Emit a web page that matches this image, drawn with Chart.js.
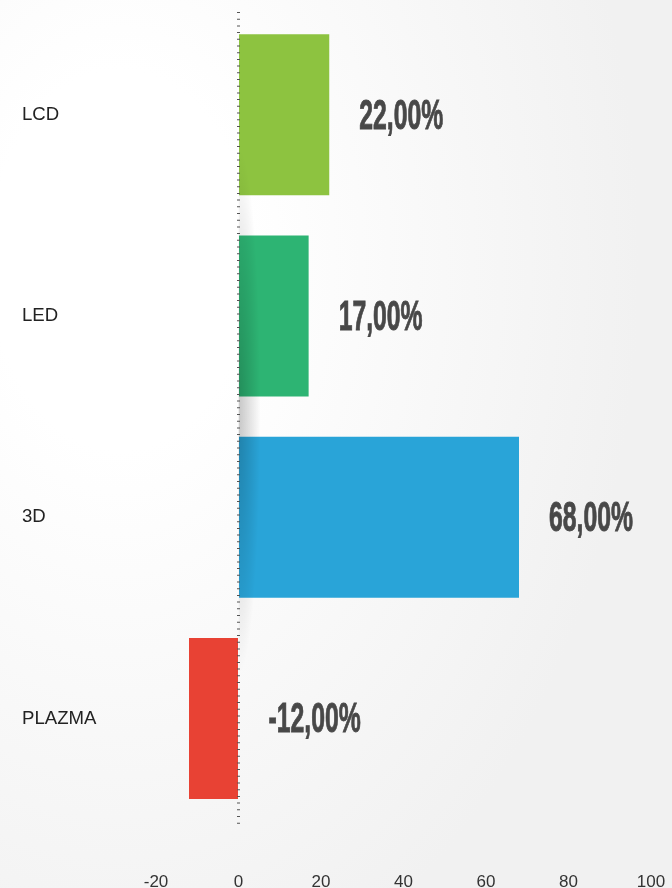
<!DOCTYPE html>
<html><head><meta charset="utf-8">
<script src="https://cdn.jsdelivr.net/npm/chart.js@4"></script>
<style>
html,body{margin:0;padding:0;}
body{width:672px;height:888px;overflow:hidden;background:radial-gradient(ellipse 520px 760px at 120px 260px,#ffffff 25%,#f1f1f1 100%);}
#wrap{width:672px;height:888px;position:relative;}
canvas{display:block;}
</style></head><body>
<div id="wrap"><canvas id="c" width="672" height="888"></canvas></div>
<script>
const categories = ['LCD', 'LED', '3D', 'PLAZMA'];
const values = [22, 17, 68, -12];
const tickValues = [-20, 0, 20, 40, 60, 80, 100];
const barColors = ['#8DC340', '#2DB473', '#29A4D8', '#E84234'];

function fmt(v) { return v.toFixed(2).replace('.', ',') + '%'; }

const axisPlugin = {
  id: 'zeroAxis',
  afterDatasetsDraw(chart) {
    const ctx = chart.ctx, xs = chart.scales.x, area = chart.chartArea;
    const x0 = xs.getPixelForValue(0);
    // soft shadow right of the axis
    ctx.save();
    ctx.beginPath(); ctx.rect(x0, area.top, 40, area.bottom - area.top); ctx.clip();
    const cy = (area.top + area.bottom) / 2 - 6;
    ctx.translate(x0, cy); ctx.scale(1, 12);
    const g = ctx.createRadialGradient(0, 0, 0, 0, 0, 22);
    g.addColorStop(0, 'rgba(0,0,0,0.22)');
    g.addColorStop(1, 'rgba(0,0,0,0)');
    ctx.fillStyle = g; ctx.fillRect(0, -30, 30, 60);
    ctx.restore();
    // dotted axis line
    ctx.save();
    ctx.strokeStyle = '#555'; ctx.lineWidth = 3;
    ctx.setLineDash([1, 5.7]);
    ctx.beginPath(); ctx.moveTo(x0, area.top - 2); ctx.lineTo(x0, area.bottom + 6); ctx.stroke();
    ctx.restore();
    // value labels
    const meta = chart.getDatasetMeta(0);
    ctx.save();
    ctx.font = 'bold 42px "Liberation Sans", Arial, sans-serif';
    const sx = 84 / ctx.measureText('22,00%').width;
    ctx.fillStyle = '#484848'; ctx.textAlign = 'left'; ctx.textBaseline = 'alphabetic';
    ctx.strokeStyle = '#484848'; ctx.lineWidth = 0.9;
    meta.data.forEach((bar, i) => {
      const tx = Math.max(bar.x, x0) + 30;
      ctx.save(); ctx.translate(tx, bar.y + 14); ctx.scale(sx, 1);
      ctx.fillText(fmt(values[i]), 0, 0);
      ctx.strokeText(fmt(values[i]), 0, 0);
      ctx.restore();
    });
    ctx.restore();
  }
};

new Chart(document.getElementById('c'), {
  type: 'bar',
  data: { labels: categories, datasets: [{ data: values, backgroundColor: barColors, barPercentage: 0.8, categoryPercentage: 1, borderWidth: 0 }] },
  options: {
    indexAxis: 'y', responsive: false, animation: false,
    layout: { padding: { left: 22, right: 21, top: 14, bottom: 0 } },
    plugins: { legend: { display: false }, tooltip: { enabled: false } },
    scales: {
      x: {
        min: -20, max: 100,
        afterBuildTicks(s) { s.ticks = tickValues.map(v => ({ value: v })); },
        grid: { display: true, drawOnChartArea: false, drawTicks: true, tickLength: 53, color: 'rgba(0,0,0,0)' },
        border: { display: false },
        ticks: { padding: 0, color: '#333', font: { family: '"Liberation Sans", Arial, sans-serif', size: 17 } },
        afterFit(s) { s.height = 69; }
      },
      y: {
        grid: { display: false, drawTicks: false }, border: { display: false },
        ticks: { crossAlign: 'far', padding: 0, color: '#222', font: { family: '"Liberation Sans", Arial, sans-serif', size: 18.6 } },
        afterFit(s) { s.width = 134; }
      }
    }
  },
  plugins: [axisPlugin]
});
</script>
</body></html>
